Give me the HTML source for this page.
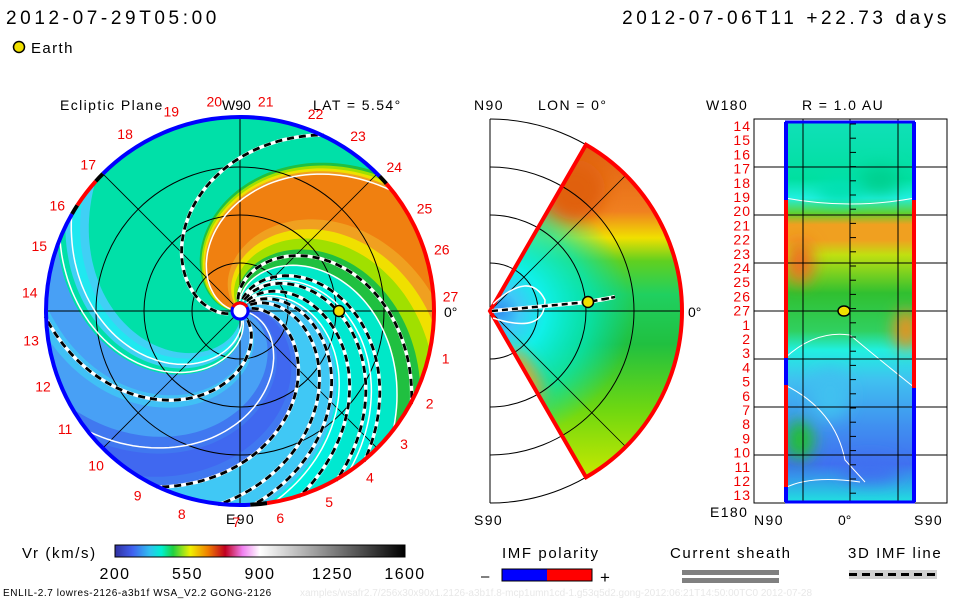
<!DOCTYPE html>
<html><head><meta charset="utf-8"><style>
body{margin:0;background:#fff;font-family:"Liberation Sans",sans-serif;}
#root{position:relative;width:960px;height:600px;overflow:hidden;background:#fff;}
svg text{font-family:"Liberation Sans",sans-serif;}
.big{letter-spacing:3.6px;}
.lab{letter-spacing:1.4px;}
.leg{letter-spacing:1.6px;}
</style></head><body>
<div id="root">
<svg id="svg" width="960" height="600" viewBox="0 0 960 600" xmlns="http://www.w3.org/2000/svg">
<defs>
 <clipPath id="discClip"><circle cx="240" cy="311" r="194"/></clipPath>
 <clipPath id="rightClip"><rect x="785" y="122" width="130" height="380"/></clipPath>
 <clipPath id="wedgeClip"><path id="wedgeClipPath" d=""/></clipPath>
 <filter id="blur" x="-50%" y="-50%" width="200%" height="200%"><feGaussianBlur stdDeviation="8"/></filter>
 <linearGradient id="cbar" x1="0" x2="1" y1="0" y2="0">
  <stop offset="0" stop-color="#3030a0"/><stop offset="0.06" stop-color="#4060f0"/><stop offset="0.12" stop-color="#30c0f0"/>
  <stop offset="0.16" stop-color="#00f0d0"/><stop offset="0.2" stop-color="#20d040"/><stop offset="0.26" stop-color="#f0f000"/>
  <stop offset="0.32" stop-color="#f08000"/><stop offset="0.38" stop-color="#c00020"/><stop offset="0.44" stop-color="#f080f0"/>
  <stop offset="0.5" stop-color="#ffffff"/><stop offset="1" stop-color="#000000"/>
 </linearGradient>
 <linearGradient id="midGrad" x1="0" x2="0" y1="0" y2="1">
  <stop offset="0" stop-color="#e06010"/><stop offset="0.2" stop-color="#f08020"/><stop offset="0.28" stop-color="#f0e000"/>
  <stop offset="0.35" stop-color="#60d020"/><stop offset="0.45" stop-color="#20d060"/><stop offset="0.6" stop-color="#20c040"/>
  <stop offset="0.8" stop-color="#70d810"/><stop offset="1" stop-color="#c8e800"/>
 </linearGradient>
 <radialGradient id="midCenter" cx="500" cy="311" r="130" gradientUnits="userSpaceOnUse">
  <stop offset="0" stop-color="#3090f0"/><stop offset="0.15" stop-color="#40c8f8"/><stop offset="0.35" stop-color="#10f0e8"/><stop offset="0.7" stop-color="#00e8c0" stop-opacity="0.7"/><stop offset="1" stop-color="#00e0c0" stop-opacity="0"/>
 </radialGradient>
 <linearGradient id="rightGrad" x1="0" x2="0" y1="0" y2="1">
  <stop offset="0" stop-color="#10e0b8"/><stop offset="0.15" stop-color="#00e0a0"/><stop offset="0.2" stop-color="#20f0e0"/>
  <stop offset="0.24" stop-color="#60d030"/><stop offset="0.27" stop-color="#f0a020"/><stop offset="0.31" stop-color="#f0a020"/><stop offset="0.35" stop-color="#c0e010"/>
  <stop offset="0.45" stop-color="#30c030"/><stop offset="0.55" stop-color="#30d060"/><stop offset="0.6" stop-color="#20f0e0"/>
  <stop offset="0.68" stop-color="#40c0f0"/><stop offset="0.8" stop-color="#4090f0"/><stop offset="0.9" stop-color="#4070f0"/><stop offset="1" stop-color="#20e0e0"/>
 </linearGradient>
</defs>
<text x="6" y="24" font-size="19" fill="#000" class="big">2012-07-29T05:00</text>
<text x="950" y="24" font-size="19" fill="#000" text-anchor="end" class="big">2012-07-06T11 +22.73 days</text>
<circle cx="19" cy="47" r="5.5" fill="#f0e000" stroke="#000" stroke-width="1.5"/>
<text x="31" y="53" font-size="15" class="lab">Earth</text>

<g id="disc" clip-path="url(#discClip)">
 <circle cx="240" cy="311" r="194" fill="#48a0f5"/>
</g>
<g id="discOver"></g>
<text x="60" y="110" font-size="14" class="lab">Ecliptic Plane</text>
<text x="313" y="110" font-size="14" class="lab">LAT = 5.54°</text>
<text x="222" y="110" font-size="14">W90</text>
<text x="226" y="524" font-size="14" class="lab">E90</text>
<text x="444" y="317" font-size="14">0°</text>
<g id="rotLabels" font-size="14" fill="#f00000"></g>

<g id="mid"></g>
<text x="474" y="110" font-size="14" class="lab">N90</text>
<text x="538" y="110" font-size="14" class="lab">LON = 0°</text>
<text x="474" y="525" font-size="14" class="lab">S90</text>
<text x="688" y="317" font-size="14">0°</text>

<g id="right"></g>
<text x="802" y="110" font-size="14" class="lab">R = 1.0 AU</text>
<text x="706" y="110" font-size="14" class="lab">W180</text>
<text x="710" y="517" font-size="14" class="lab">E180</text>
<text x="754" y="525" font-size="14" class="lab">N90</text>
<text x="838" y="525" font-size="14">0°</text>
<text x="914" y="525" font-size="14" class="lab">S90</text>

<text x="22" y="558" font-size="15" class="leg">Vr (km/s)</text>
<rect x="115" y="545" width="290" height="12" fill="url(#cbar)" stroke="#000"/>
<g id="cbTicks" font-size="16" class="lab"></g>
<text x="502" y="558" font-size="15" class="leg">IMF polarity</text>
<text x="481" y="581" font-size="15">–</text>
<rect x="502" y="569" width="45" height="12" fill="#0000ff"/>
<rect x="547" y="569" width="45" height="12" fill="#ff0000"/>
<rect x="502" y="569" width="90" height="12" fill="none" stroke="#000"/>
<text x="600" y="583" font-size="17">+</text>
<text x="670" y="558" font-size="15" class="leg">Current sheath</text>
<rect x="682" y="570" width="97" height="5" fill="#808080"/>
<rect x="682" y="578" width="97" height="5" fill="#808080"/>
<text x="848" y="558" font-size="15" class="leg">3D IMF line</text>
<rect x="849" y="570" width="88" height="9" fill="#d0d0d0"/>
<line x1="849" y1="574.5" x2="937" y2="574.5" stroke="#000" stroke-width="3" stroke-dasharray="8,5"/>
<text x="3" y="596" font-size="10" style="letter-spacing:0.6px">ENLIL-2.7 lowres-2126-a3b1f WSA_V2.2 GONG-2126</text>
<text x="300" y="596" font-size="10" fill="#e8e8e8">xamples/wsafr2.7/256x30x90x1.2126-a3b1f.8-mcp1umn1cd-1.g53q5d2.gong-2012:06:21T14:50:00TC0    2012-07-28</text>
</svg>
</div>
<script>
// data
const cbTickValues = [200, 550, 900, 1250, 1600];
const spiralOuterAngles = [25, 118, 140, 150, 162, 176, 186, 205, 268];
const whiteSpiralAngles = [52, 128, 146, 170, 232, 292, 300];
const rotLabels = ["20","21","22","23","24","25","26","27","1","2","3","4","5","6","7","8","9","10","11","12","13","14","15","16","17","18","19"];
const rotAngles = [-7,7,21,34,47,61,73,86,103,116,129,142,155,169,181,196,209,223,236,249,262,275,288,300,314,327,341];
const rightRowLabels = ["14","15","16","17","18","19","20","21","22","23","24","25","26","27","1","2","3","4","5","6","7","8","9","10","11","12","13"];

const NS="http://www.w3.org/2000/svg";
function mk(tag,attrs,parent){const e=document.createElementNS(NS,tag);for(const k in attrs)e.setAttribute(k,attrs[k]);parent.appendChild(e);return e;}
const CX=240,CY=311,R=194,K=0.6;
function pt(r,deg){const a=deg*Math.PI/180;return [CX+r*Math.sin(a),CY-r*Math.cos(a)];}
function spiralAngle(outer,r){return outer-K*(R-r)-25*Math.exp(-r/40);}
function spiralPts(outer,r0){const p=[];for(let r=r0;r<=R+2;r+=3)p.push(pt(r,spiralAngle(outer,r)));return p;}
function band(a0,a1,r0){
 const A=spiralPts(a0,r0),B=spiralPts(a1,r0).reverse();
 const ro=R+4, q0=pt(ro,a0), q1=pt(ro,a1), large=(a1-a0)>180?1:0;
 let d="M"+A.map(p=>p[0].toFixed(1)+","+p[1].toFixed(1)).join("L");
 d+=`L${q0[0].toFixed(1)},${q0[1].toFixed(1)} A${ro},${ro} 0 ${large} 1 ${q1[0].toFixed(1)},${q1[1].toFixed(1)}`;
 d+="L"+B.map(p=>p[0].toFixed(1)+","+p[1].toFixed(1)).join("L")+"Z";
 return d;}
const disc=document.getElementById('disc');
const bands=[[290,408,"#00e0a8"],[296,312,"#40d0f5"],[300,306,"#20e8f0"],[255,290,"#48a0f5"],[262,272,"#40c0f5"],[205,240,"#4078f0"],[212,228,"#4068f0"],
 [165,205,"#40c8f5"],[120,172,"#00f0e0"],[128,140,"#00e8c8"],[150,160,"#00e8d0"],
 [44,128,"#20c040"],[46,112,"#a0e000"],[48,102,"#f0e000"],[50,94,"#f0a020"],[52,86,"#f08010"]];
bands.forEach(b=>{const e=mk('path',{d:band(b[0],b[1],6),fill:b[2]},disc);
 
 });
const ov=document.getElementById('discOver');
[48,96,144].forEach(r=>mk('circle',{cx:CX,cy:CY,r:r,fill:"none",stroke:"#000","stroke-width":1},ov));
mk('line',{x1:CX-R,y1:CY,x2:CX+R,y2:CY,stroke:"#000"},ov);mk('line',{x1:CX,y1:CY-R,x2:CX,y2:CY+R,stroke:"#000"},ov);
[45,135].forEach(a=>{const p=pt(R,a),q=pt(R,a+180);mk('line',{x1:p[0],y1:p[1],x2:q[0],y2:q[1],stroke:"#000","stroke-width":0.8},ov);});
function poly(pts){return pts.map(p=>p[0].toFixed(1)+","+p[1].toFixed(1)).join(" ");}
whiteSpiralAngles.forEach(a=>{const e=mk('polyline',{points:poly(spiralPts(a,10)),fill:"none",stroke:"#fff","stroke-width":1.5},ov);
 
 });
spiralOuterAngles.forEach(a=>{const pts=poly(spiralPts(a,12));
 mk('polyline',{points:pts,fill:"none",stroke:"#fff","stroke-width":3.5},ov);
 const e=mk('polyline',{points:pts,fill:"none",stroke:"#000","stroke-width":2.8,"stroke-dasharray":"7,5"},ov);
 
 });
function arc(a0,a1,color,w,r){const p=pt(r,a0),q=pt(r,a1);let d=a1-a0;if(d<0)d+=360;
 return mk('path',{d:`M${p[0]},${p[1]} A${r},${r} 0 ${d>180?1:0} 1 ${q[0]},${q[1]}`,fill:"none",stroke:color,"stroke-width":w},ov);}
[[315,46,"#0000ff"],[46,49,"#000"],[49,172,"#ff0000"],[172,177,"#000"],[177,300,"#0000ff"],[300,303,"#000"],[303,312,"#ff0000"],[312,315,"#000"]]
 .forEach(s=>{const e=arc(s[0],s[1],s[2],4,R);});
mk('circle',{cx:CX,cy:CY,r:8,fill:"#fff",stroke:"#0000ff","stroke-width":3},ov);
arc(300,60,"#ff0000",3,8);
const e1=mk('circle',{cx:339,cy:311,r:5.5,fill:"#f0e000",stroke:"#000","stroke-width":1.5},ov);


const rl=document.getElementById('rotLabels');
rotLabels.forEach((t,i)=>{const p=pt(211,rotAngles[i]);
 const e=mk('text',{x:p[0].toFixed(1),y:(p[1]+5).toFixed(1),"text-anchor":"middle"},rl);e.textContent=t;
 
 });

// middle
const mid=document.getElementById('mid');const MX=490,MY=311,MR=192;
function mp(r,deg){const a=deg*Math.PI/180;return [MX+r*Math.cos(a),MY-r*Math.sin(a)];}
const t1=mp(MR,60),t2=mp(MR,-60);
const wedge=`M${MX},${MY} L${t1[0]},${t1[1]} A${MR},${MR} 0 0 1 ${t2[0]},${t2[1]} Z`;
document.getElementById('wedgeClipPath').setAttribute('d',wedge);
mk('path',{d:wedge,fill:"url(#midGrad)"},mid);
mk('path',{d:wedge,fill:"url(#midCenter)"},mid);
const mb=mk('g',{"clip-path":"url(#wedgeClip)"},mid);
const mbg=mk('g',{filter:"url(#blur)"},mb);
mk('ellipse',{cx:525,cy:375,rx:10,ry:30,fill:"#f0a020",transform:"rotate(-30 525 375)"},mbg);
mk('ellipse',{cx:575,cy:190,rx:30,ry:30,fill:"#e06010"},mbg);
[48,96,144,192].forEach(r=>mk('path',{d:`M${MX},${MY-r} A${r},${r} 0 0 1 ${MX},${MY+r}`,fill:"none",stroke:"#000"},mid));
mk('line',{x1:MX,y1:MY-MR,x2:MX,y2:MY+MR,stroke:"#000"},mid);
mk('line',{x1:MX,y1:MY,x2:MX+MR,y2:MY,stroke:"#000"},mid);
[45,-45].forEach(a=>{const p=mp(MR,a);mk('line',{x1:MX,y1:MY,x2:p[0],y2:p[1],stroke:"#000","stroke-width":0.8},mid);});
const wr=mk('path',{d:wedge,fill:"none",stroke:"#ff0000","stroke-width":4},mid);


mk('path',{d:"M493,304 Q530,270 545,300 Q545,335 493,318",fill:"none",stroke:"#fff","stroke-width":1.5},mid);
mk('polyline',{points:"492,311 588,302 615,297 600,300",fill:"none",stroke:"#fff","stroke-width":4},mid);
mk('polyline',{points:"492,311 588,302 615,297 600,300",fill:"none",stroke:"#000","stroke-width":2.5,"stroke-dasharray":"6,4"},mid);
const e2=mk('circle',{cx:588,cy:302,r:5.5,fill:"#f0e000",stroke:"#000","stroke-width":1.5},mid);



// right
const rg=document.getElementById('right');
mk('rect',{x:754,y:119,width:193,height:384,fill:"none",stroke:"#000"},rg);
mk('rect',{x:785,y:122,width:130,height:380,fill:"url(#rightGrad)"},rg);
const blobs=mk('g',{"clip-path":"url(#rightClip)"},rg);
const bg=mk('g',{filter:"url(#blur)"},blobs);
[[800,262,14,22,"#f07020"],[906,330,12,20,"#f09020"],[800,440,14,20,"#20c030"],[840,190,24,12,"#00e0b0"],[880,180,20,14,"#00d090"],[870,470,30,12,"#4070f0"],[830,395,20,25,"#40c0f0"]]
 .forEach(b=>mk('ellipse',{cx:b[0],cy:b[1],rx:b[2],ry:b[3],fill:b[4]},bg));
mk('path',{d:"M785,198 Q850,210 915,198",fill:"none",stroke:"#fff"},rg);
mk('path',{d:"M785,358 Q815,330 850,335 Q880,360 915,388",fill:"none",stroke:"#fff"},rg);
mk('path',{d:"M785,385 Q835,410 845,460 L865,482",fill:"none",stroke:"#fff"},rg);
mk('path',{d:"M785,488 Q810,475 860,482",fill:"none",stroke:"#fff"},rg);
[167,215,263,311,359,407,455].forEach(y=>mk('line',{x1:754,y1:y,x2:947,y2:y,stroke:"#000"},rg));
[803,850,898].forEach(x=>mk('line',{x1:x,y1:119,x2:x,y2:503,stroke:"#000"},rg));
for(let y=124;y<500;y+=14.2)mk('line',{x1:850,y1:y,x2:856,y2:y,stroke:"#000"},rg);
mk('line',{x1:785,y1:122,x2:915,y2:122,stroke:"#0000ff","stroke-width":3},rg);
mk('line',{x1:785,y1:502,x2:915,y2:502,stroke:"#0000ff","stroke-width":3},rg);
[[122,200,"#00f"],[200,358,"#f00"],[358,385,"#00f"],[385,487,"#f00"],[487,502,"#00f"]].forEach(s=>mk('line',{x1:786,y1:s[0],x2:786,y2:s[1],stroke:s[2],"stroke-width":4},rg));
[[122,200,"#00f"],[200,388,"#f00"],[388,502,"#00f"]].forEach(s=>mk('line',{x1:914,y1:s[0],x2:914,y2:s[1],stroke:s[2],"stroke-width":4},rg));
rightRowLabels.forEach((t,i)=>{const e=mk('text',{x:751,y:(131+i*14.2).toFixed(1),"text-anchor":"end","font-size":14,fill:"#f00000","letter-spacing":"1"},rg);e.textContent=t;
 
 });
const e3=mk('ellipse',{cx:844,cy:311,rx:6,ry:5,fill:"#f0e000",stroke:"#000","stroke-width":1.5},rg);



const cb=document.getElementById('cbTicks');
const cbx=v=>115+(v-200)/(1600-200)*290;
cbTickValues.forEach(v=>{const e=mk('text',{x:cbx(v),y:579,"text-anchor":"middle"},cb);e.textContent=v;
 
 });
</script>
</body></html>
